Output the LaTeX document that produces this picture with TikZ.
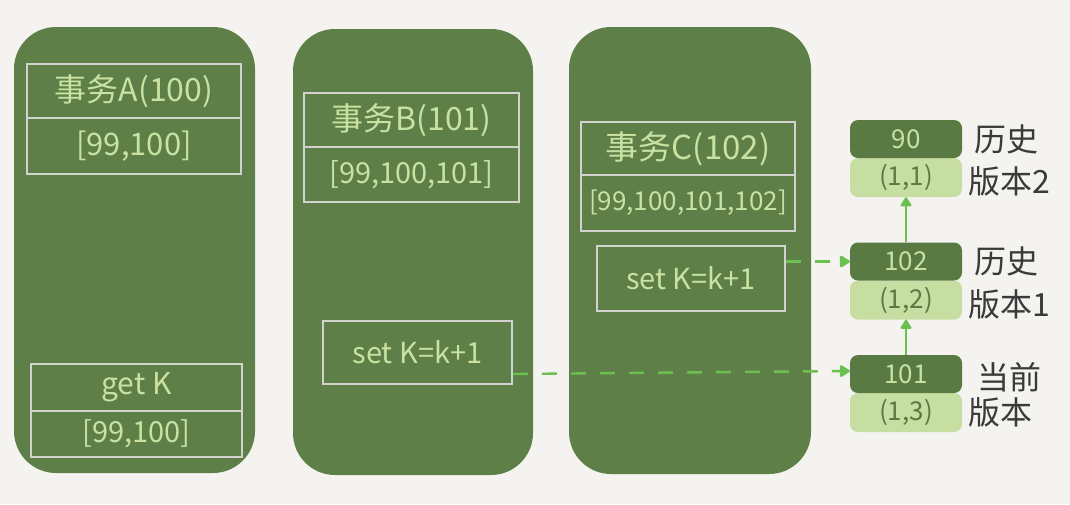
\documentclass[tikz,border=0pt]{standalone}
\usepackage{fontspec}
\setmainfont{Noto Sans CJK SC}
\usepackage{tikz}
\usetikzlibrary{positioning,arrows.meta}
\definecolor{paperColor}{HTML}{F4F3EF}
\definecolor{panelColor}{HTML}{5E7F48}
\definecolor{chalkColor}{HTML}{C9E2A2}
\definecolor{frameColor}{HTML}{D2D3CE}
\definecolor{recordDark}{HTML}{5A7A44}
\definecolor{recordLight}{HTML}{C6DEA2}
\definecolor{linkColor}{HTML}{6CC04F}
\definecolor{inkColor}{HTML}{3A3A3A}
\tikzstyle{board} = [x = 1pt, y = -1pt]
\tikzstyle{panelStyle} = [fill=panelColor, rounded corners = 42pt]
\tikzstyle{cellStyle} = [draw=frameColor, line width=1.6pt, text=chalkColor, inner sep=0pt]
\tikzstyle{recordDarkStyle} = [fill=recordDark, rounded corners = 8pt, minimum width = 112, minimum height = 38, inner sep=0pt, text=chalkColor, font=\fontsize{26}{26}\selectfont]
\tikzstyle{recordLightStyle} = [fill=recordLight, rounded corners = 8pt, minimum width = 112, minimum height = 39, inner sep=0pt, text=recordDark, font=\fontsize{26}{26}\selectfont]
\tikzstyle{labelStyle} = [text=inkColor, inner sep=0pt, font=\fontsize{32}{32}\selectfont]
\tikzstyle{versionLink} = [draw=linkColor, line width=2pt, -{Triangle[round, length=10pt, width=12pt]}]
\tikzstyle{dashLink} = [draw=linkColor, line width=2.4pt, dash pattern=on 15pt off 14pt, -{Triangle[round, length=11pt, width=13pt]}]
\newcommand{\panel}[4]{\fill [panelStyle] (#1, #2) rectangle (#3, #4);}
\newcommand{\cell}[7]{\node [cellStyle, font=\fontsize{#7}{#7}\selectfont, minimum width = #4 - #2, minimum height = #5 - #3] (#1) at ({(#2 + #4) / 2}, {(#3 + #5) / 2}) {#6};}
\newcommand{\versionRecord}[4]{
  \node [recordLightStyle] (#1light) at (906, #2 + 38.5) {#4};
  \node [recordDarkStyle] (#1) at (906, #2) {#3};
}
\begin{document}
\begin{tikzpicture}[board]
  \fill [paperColor] (0, 0) rectangle (1070, 504);
  \useasboundingbox (0, 0) rectangle (1070, 504);

  % transactions
  \panel{14}{27}{255}{473}
  \panel{293}{29}{533}{475}
  \panel{569}{27}{811}{474}

  \cell{headA}{27}{64}{241}{118}{事务A(100)}{32}
  \cell{viewA}{27}{118}{241}{174}{[99,100]}{31}
  \cell{getA}{31}{364}{242}{411}{get K}{30}
  \cell{readA}{31}{411}{242}{457}{[99,100]}{29}

  \cell{headB}{304}{93}{519}{147}{事务B(101)}{32}
  \cell{viewB}{304}{147}{519}{202}{[99,100,101]}{29}
  \cell{setB}{323}{321}{512}{384}{set K=k+1}{29}

  \cell{headC}{581}{122}{795}{175}{事务C(102)}{33}
  \cell{viewC}{581}{175}{795}{231}{[99,100,101,102]}{26}
  \cell{setC}{597}{246}{785}{311}{set K=k+1}{29}

  % row versions
  \versionRecord{v90}{139}{90}{(1,1)}
  \versionRecord{v102}{261.5}{102}{(1,2)}
  \versionRecord{v101}{374}{101}{(1,3)}

  \node [labelStyle, right = 12pt of v90] (v90Name) {历史};
  \node [labelStyle, right = 6pt of v90light, yshift=-4pt] (v90Tag) {版本2};
  \node [labelStyle, right = 12pt of v102] (v102Name) {历史};
  \node [labelStyle, right = 6pt of v102light, yshift=-4pt] (v102Tag) {版本1};
  \node [labelStyle, right = 15pt of v101, yshift=-3pt] (v101Name) {当前};
  \node [labelStyle, right = 6pt of v101light] (v101Tag) {版本};

  \draw [versionLink] (v102.north) -- (v90light.south);
  \draw [versionLink] (v101.north) -- (v102light.south);
  \draw [dashLink] (setC.east |- v102.west) -- (v102.west);
  \draw [dashLink] (setB.east |- v101.west) -- ([yshift=3pt]v101.west);
\end{tikzpicture}
\end{document}
